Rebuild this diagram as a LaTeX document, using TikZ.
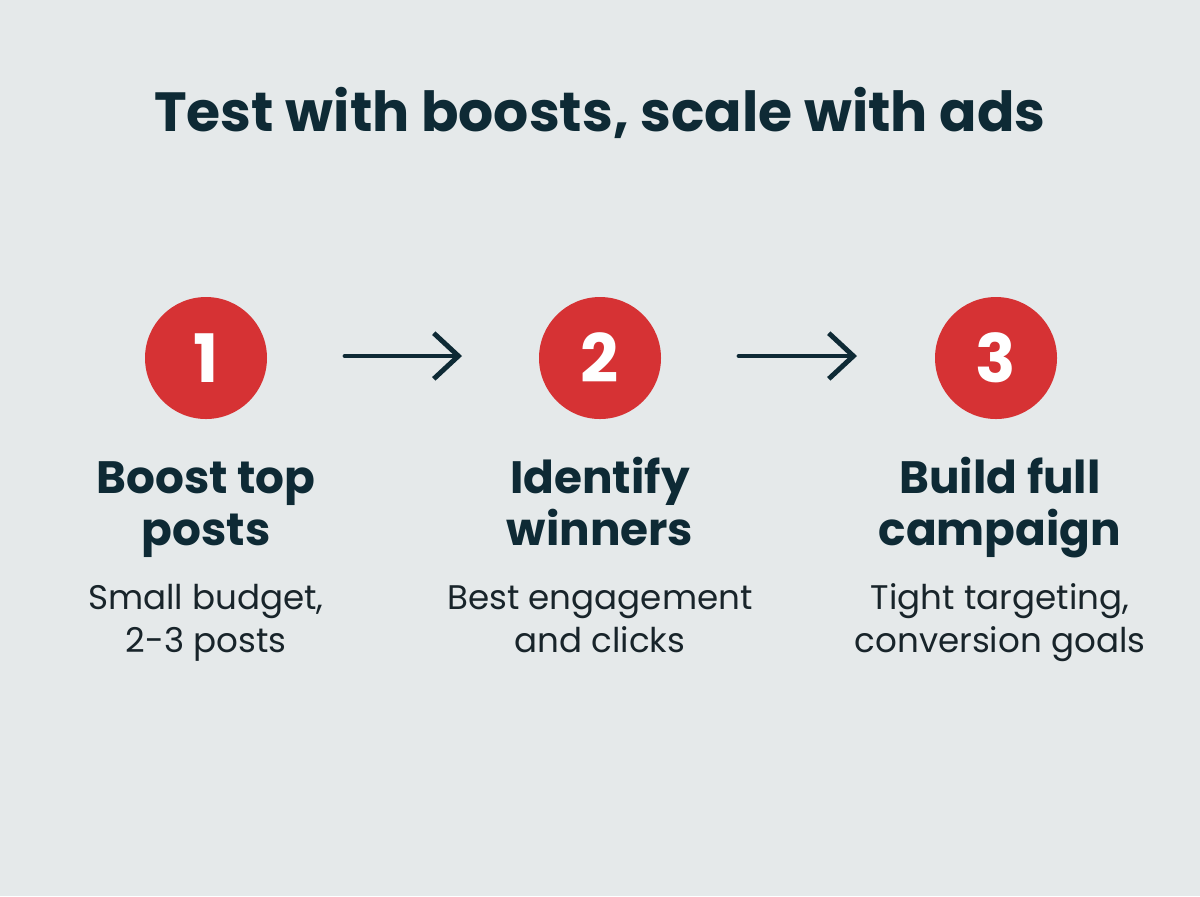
\documentclass[tikz,border=0pt]{standalone}
\usepackage{fontspec}
\setmainfont{Poppins}
\usetikzlibrary{arrows.meta}
\definecolor{bg}{HTML}{E5E9EA}
\definecolor{ink}{HTML}{0E2A35}
\definecolor{subink}{HTML}{18242A}
\definecolor{stepred}{HTML}{D63234}
\tikzset{
  num/.style={circle, fill=stepred, minimum size=122*0.01cm, inner sep=0pt, text=white, font=\fontsize{19}{19}\selectfont\bfseries},
  head/.style={text=ink, align=center, anchor=north, inner sep=0pt, font=\fontsize{12.9}{14.8}\selectfont\bfseries},
  sub/.style={text=subink, align=center, anchor=north, inner sep=0pt, font=\fontsize{9.7}{12.3}\selectfont},
  conn/.style={draw=ink, line width=1.4pt, line cap=round, -{Straight Barb[length=7pt,width=13pt,line width=1.4pt]}}
}
\begin{document}
\begin{tikzpicture}[x=0.01cm,y=-0.01cm]
\fill[bg] (0,0) rectangle (1200,896);
\useasboundingbox (0,0) rectangle (1200,896);
\node[text=ink, font=\fontsize{15.7}{18}\selectfont\bfseries] (title) at (600,113) {Test with boosts, scale with ads};
\node[num] (n1) at (206,358) {1};
\node[num] (n2) at (600,358) {2};
\node[num] (n3) at (996,358) {3};
\coordinate (a1s) at (345,356); \coordinate (a1e) at (462,356);
\coordinate (a2s) at (739,356); \coordinate (a2e) at (857,356);
\draw[conn] (a1s) -- (a1e);
\draw[conn] (a2s) -- (a2e);
\node[head] (h1) at (206,456) {\strut Boost top\\posts};
\node[head] (h2) at (600,456) {\strut Identify\\winners};
\node[head] (h3) at (1000,456) {\strut Build full\\campaign};
\node[sub] (s1) at (206,578) {\strut Small budget,\\2-3 posts};
\node[sub] (s2) at (600,578) {\strut Best engagement\\and clicks};
\node[sub] (s3) at (1000,578) {\strut Tight targeting,\\conversion goals};
\end{tikzpicture}
\end{document}
